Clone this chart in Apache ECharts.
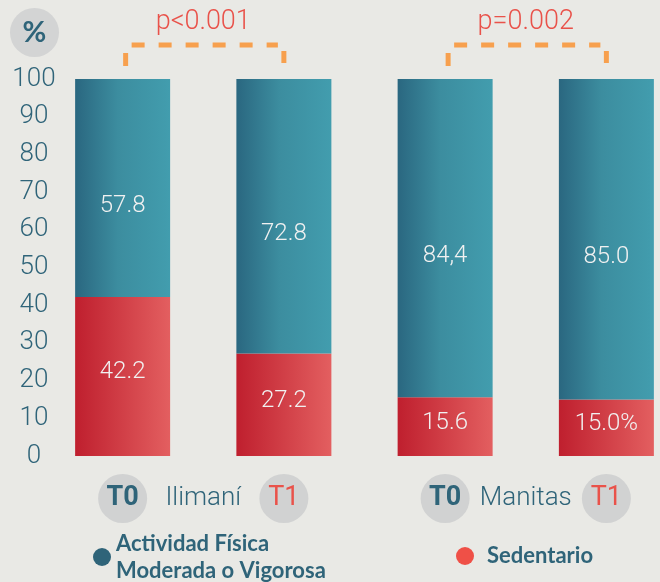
<!DOCTYPE html>
<html>
<head>
<meta charset="utf-8">
<script src="https://cdn.jsdelivr.net/npm/echarts@6/dist/echarts.min.js"></script>
<style>
html, body { margin: 0; padding: 0; background: #e9e9e5; }
#chart { width: 660px; height: 582px; }
</style>
</head>
<body>
<div id="chart"></div>
<script>
// datos
const categories = ['T0', 'T1', 'T0', 'T1'];
const groups = ['Ilimaní', 'Manitas'];
const activos = [57.8, 72.8, 84.4, 85.0];
const activosText = ['57.8', '72.8', '84,4', '85.0'];
const sedentarios = [42.2, 27.2, 15.6, 15.0];
const sedentariosText = ['42.2', '27.2', '15.6', '15.0%'];
const pPairs = [[0, 1], [2, 3]];
const pTexts = ['p<0.001', 'p=0.002'];

const NARROW = "Roboto, sans-serif";
const ROUND = "Lato, 'Noto Sans', sans-serif";
const AZUL = '#2f6479';
const ROJO = '#e9524a';
const NARANJA = '#f7a04e';

const chart = echarts.init(document.getElementById('chart'));

const gradAzul = new echarts.graphic.LinearGradient(0, 0, 1, 0, [
    { offset: 0, color: '#2a6780' },
    { offset: 0.45, color: '#3c8d9f' },
    { offset: 1, color: '#429dae' }
]);
const gradRojo = new echarts.graphic.LinearGradient(0, 0, 1, 0, [
    { offset: 0, color: '#bf1f2e' },
    { offset: 1, color: '#e35f60' }
]);

chart.setOption({
    backgroundColor: '#e9e9e5',
    animation: false,
    title: {
        text: '{c|%}',
        left: 10,
        top: 8,
        padding: 0,
        textStyle: {
            rich: {
                c: {
                    width: 49, height: 49, lineHeight: 49, align: 'center',
                    backgroundColor: '#d3d4d4', borderRadius: 24.5,
                    color: AZUL, fontSize: 29, fontFamily: ROUND
                }
            }
        }
    },
    grid: { left: 42, top: 79, width: 645, height: 377, outerBoundsMode: 'none' },
    legend: [
        {
            left: 88, top: 525,
            data: [{ name: 'Actividad Física\nModerada o Vigorosa', itemStyle: { color: AZUL } }],
            icon: 'circle', itemWidth: 18, itemHeight: 18, itemGap: 9,
            textStyle: { color: AZUL, fontSize: 22, fontWeight: 'bold', fontFamily: ROUND, lineHeight: 27 }
        },
        {
            left: 451, top: 540,
            data: [{ name: 'Sedentario', itemStyle: { color: '#ef5047' } }],
            icon: 'circle', itemWidth: 18, itemHeight: 18,
            textStyle: { color: AZUL, fontSize: 22, fontWeight: 'bold', fontFamily: ROUND, padding: [0, 0, 0, 8] }
        }
    ],
    xAxis: [
        {
            type: 'category',
            data: categories,
            axisLine: { show: false },
            axisTick: { show: false },
            axisLabel: {
                margin: 18,
                formatter: v => (v === 'T0' ? '{t0|T0}' : '{t1|T1}'),
                rich: {
                    t0: { width: 49, height: 49, lineHeight: 49, align: 'center', backgroundColor: '#d1d2d2', borderRadius: 24.5, color: AZUL, fontSize: 27, fontWeight: 'bold', fontFamily: NARROW },
                    t1: { width: 49, height: 49, lineHeight: 49, align: 'center', backgroundColor: '#d1d2d2', borderRadius: 24.5, color: ROJO, fontSize: 27, fontFamily: NARROW }
                }
            }
        },
        {
            type: 'category',
            data: groups,
            position: 'bottom',
            axisLine: { show: false },
            axisTick: { show: false },
            axisLabel: { margin: 18, lineHeight: 49, color: AZUL, fontSize: 26, fontWeight: 300, fontFamily: NARROW }
        }
    ],
    yAxis: {
        type: 'value',
        min: 0, max: 100, interval: 10,
        splitLine: { show: false },
        axisLine: { show: false },
        axisTick: { show: false },
        axisLabel: { align: 'center', margin: 8, color: AZUL, fontSize: 26, fontWeight: 300, fontFamily: NARROW }
    },
    series: [
        {
            name: 'Sedentario',
            type: 'bar',
            stack: 'total',
            barWidth: 95,
            data: sedentarios,
            itemStyle: { color: gradRojo },
            label: {
                show: true, position: 'inside', offset: [0, -4],
                formatter: p => sedentariosText[p.dataIndex],
                color: '#f1f1f1', fontSize: 24, fontWeight: 300, fontFamily: NARROW
            }
        },
        {
            name: 'Actividad Física\nModerada o Vigorosa',
            type: 'bar',
            stack: 'total',
            barWidth: 95,
            data: activos,
            itemStyle: { color: gradAzul },
            label: {
                show: true, position: 'inside', offset: [0, 18],
                formatter: p => activosText[p.dataIndex],
                color: '#f1f1f1', fontSize: 24, fontWeight: 300, fontFamily: NARROW
            }
        },
        {
            // corchetes de significancia
            type: 'custom',
            data: pPairs,
            silent: true,
            renderItem(params, api) {
                const a = api.coord([api.value(0), 100]);
                const b = api.coord([api.value(1), 100]);
                const y0 = a[1];
                const xl = a[0] + 3;
                const xr = b[0];
                const line = { stroke: NARANJA, lineWidth: 5, fill: null };
                return {
                    type: 'group',
                    children: [
                        { type: 'line', shape: { x1: xl, y1: y0 - 13, x2: xl, y2: y0 - 26 }, style: line },
                        { type: 'line', shape: { x1: xl + 6, y1: y0 - 34, x2: xr - 6, y2: y0 - 34 }, style: Object.assign({ lineDash: [13, 14] }, line) },
                        { type: 'line', shape: { x1: xr, y1: y0 - 16, x2: xr, y2: y0 - 28 }, style: line },
                        {
                            type: 'text',
                            style: {
                                text: pTexts[params.dataIndex],
                                x: (a[0] + b[0]) / 2, y: y0 - 57,
                                align: 'center', verticalAlign: 'middle',
                                fill: ROJO, fontSize: 27, fontWeight: 300, fontFamily: NARROW
                            }
                        }
                    ]
                };
            }
        }
    ]
});
</script>
</body>
</html>
